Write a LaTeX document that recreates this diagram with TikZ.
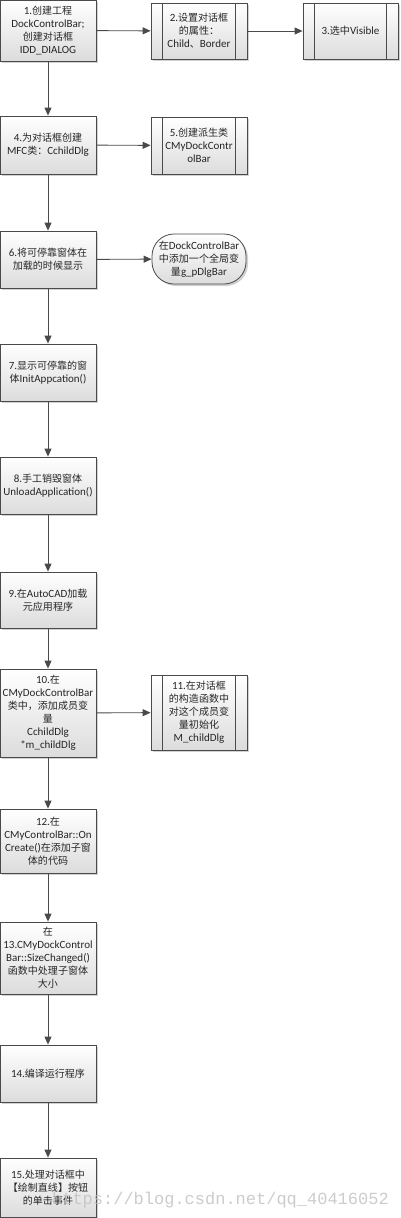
\documentclass[tikz,border=0pt]{standalone}
\usepackage{fontspec}
\setmainfont{Carlito}
\newfontfamily\cjk[Scale=0.91]{Noto Sans CJK SC}
\newfontfamily\wmfont{Liberation Mono}
\newcommand{\zh}[1]{{\cjk #1}}
\usetikzlibrary{shadows,arrows.meta}
\definecolor{edgecol}{HTML}{4A4A4A}
\definecolor{boxbot}{HTML}{DCDCDC}
\tikzset{
  procbox/.style={draw=edgecol, line width=0.8pt, top color=white, bottom color=boxbot,
    drop shadow={shadow xshift=2pt, shadow yshift=-2pt, fill=black!30, opacity=0.6},
    align=center, inner sep=1pt, font=\fontsize{11}{13}\selectfont, text=black!85},
  subbox/.style={procbox},
  termbox/.style={procbox, rounded corners=22pt},
  flow/.style={draw=edgecol, line width=0.9pt, -{Triangle[length=8pt,width=7pt]}},
  innerline/.style={draw=edgecol, line width=0.8pt},
  watermark/.style={text=black!25, font=\wmfont\fontsize{17}{17}\selectfont, opacity=0.8}
}
\begin{document}
\begin{tikzpicture}[x=1pt,y=-1pt]
\useasboundingbox (0,0) rectangle (400,1218);
% main column
\node[procbox, minimum width=96pt, minimum height=61pt] (n1) at (48,30.5)
  {1.\zh{创建工程}\\DockControlBar;\\\zh{创建对话框}\\IDD\_DIALOG};
\node[subbox, minimum width=96pt, minimum height=56pt] (n2) at (199,31)
  {2.\zh{设置对话框}\\\zh{的属性：}\\Child\zh{、}Border};
\node[subbox, minimum width=95pt, minimum height=56pt] (n3) at (350.5,31)
  {3.\zh{选中}Visible};
\node[procbox, minimum width=96pt, minimum height=58pt] (n4) at (48,145)
  {4.\zh{为对话框创建}\\MFC\zh{类：}CchildDlg};
\node[subbox, minimum width=96pt, minimum height=57pt] (n5) at (199,145.5)
  {5.\zh{创建派生类}\\CMyDockContr\\olBar};
\node[procbox, minimum width=96pt, minimum height=57pt] (n6) at (48,259.5)
  {6.\zh{将可停靠窗体在}\\\zh{加载的时候显示}};
\node[termbox, minimum width=94pt, minimum height=50pt] (ng) at (199,259)
  {\zh{在}DockControlBar\\\zh{中添加一个全局变}\\\zh{量}g\_pDlgBar};
\node[procbox, minimum width=96pt, minimum height=57pt] (n7) at (48,372.5)
  {7.\zh{显示可停靠的窗}\\\zh{体}InitAppcation()};
\node[procbox, minimum width=96pt, minimum height=57pt] (n8) at (48,485.5)
  {8.\zh{手工销毁窗体}\\UnloadApplication()};
\node[procbox, minimum width=96pt, minimum height=56pt] (n9) at (48,600)
  {9.\zh{在}AutoCAD\zh{加载}\\\zh{元应用程序}};
\node[procbox, minimum width=96pt, minimum height=88pt] (n10) at (48,713)
  {10.\zh{在}\\CMyDockControlBar\\\zh{类中，添加成员变}\\\zh{量}\\CchildDlg\\*m\_childDlg};
\node[subbox, minimum width=96pt, minimum height=75pt] (n11) at (199,712.5)
  {11.\zh{在对话框}\\\zh{的构造函数中}\\\zh{对这个成员变}\\\zh{量初始化}\\M\_childDlg};
\node[procbox, minimum width=96pt, minimum height=64pt] (n12) at (48,841)
  {12.\zh{在}\\CMyControlBar::On\\Create()\zh{在添加子窗}\\\zh{体的代码}};
\node[procbox, minimum width=96pt, minimum height=72pt] (n13) at (48,958)
  {\zh{在}\\13.CMyDockControl\\Bar::SizeChanged()\\\zh{函数中处理子窗体}\\\zh{大小}};
\node[procbox, minimum width=96pt, minimum height=57pt] (n14) at (48,1073.5)
  {14.\zh{编译运行程序}};
\node[procbox, minimum width=96pt, minimum height=59pt] (n15) at (48,1187.5)
  {15.\zh{处理对话框中}\\\zh{【绘制直线】按钮}\\\zh{的单击事件}};
% inner lines of predefined-process boxes
\foreach \b in {n2,n3,n5,n11} {
  \draw[innerline] ([xshift=12pt]\b.north west) -- ([xshift=12pt]\b.south west);
  \draw[innerline] ([xshift=-12pt]\b.north east) -- ([xshift=-12pt]\b.south east);
}
% connectors
\draw[flow] (n1) -- (n2);
\draw[flow] (n2) -- (n3);
\draw[flow] (n4) -- (n5);
\draw[flow] (n6) -- (ng);
\draw[flow] (n10) -- (n11);
\draw[flow] (n1) -- (n4);
\draw[flow] (n4) -- (n6);
\draw[flow] (n6) -- (n7);
\draw[flow] (n7) -- (n8);
\draw[flow] (n8) -- (n9);
\draw[flow] (n9) -- (n10);
\draw[flow] (n10) -- (n12);
\draw[flow] (n12) -- (n13);
\draw[flow] (n13) -- (n14);
\draw[flow] (n14) -- (n15);
% watermark
\node[watermark, anchor=base east, inner sep=0pt] (wm) at (389,1204) {https://blog.csdn.net/qq\_40416052};
\end{tikzpicture}
\end{document}
